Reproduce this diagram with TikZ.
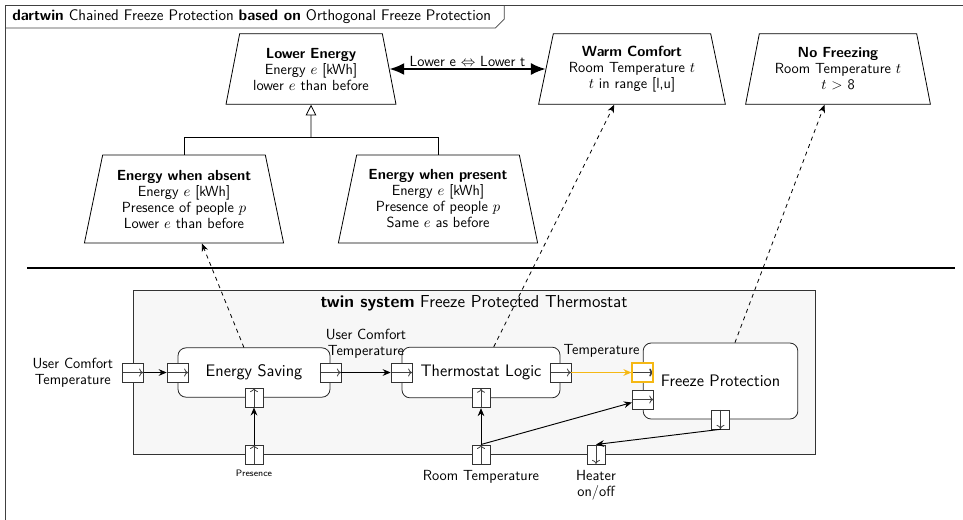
\documentclass[tikz,border=0pt]{standalone}
\usepackage{amsmath,amssymb}
\usepackage{xcolor}
\usetikzlibrary{shapes.geometric, arrows.meta, positioning, calc}
\renewcommand{\familydefault}{\sfdefault}
\definecolor{portorange}{RGB}{245,184,20}

\begin{document}
\begin{tikzpicture}[
    x=0.75pt, y=-0.75pt,
    font=\sffamily\fontsize{11}{12}\selectfont,
    % styles
    frame_line/.style={
        draw=black!75, line width=0.6pt
    },
    goal_block/.style={
        draw, trapezium, trapezium angle=74, trapezium stretches body,
        align=center, inner xsep=2pt, inner ysep=2pt, fill=white, line width=0.6pt
    },
    sys_block/.style={
        draw=black!85, fill=white, rounded corners=6pt, font=\sffamily\fontsize{12.5}{14}\selectfont, line width=0.6pt
    },
    port/.style={
        draw=black!80, fill=white, inner sep=0pt, line width=0.6pt,
        minimum width=15.75pt, minimum height=14.25pt
    },
    vport/.style={
        port, minimum width=13.5pt
    },
    port_sym/.style 2 args={
        path picture={\draw[black!75, -{To[length=3pt,width=6pt]}] (path picture bounding box.#1) -- (path picture bounding box.#2);}
    },
    flow/.style={
        -{Stealth[length=6pt,width=5pt]}, line width=0.7pt
    },
    trace/.style={
        -{Stealth[length=6pt,width=5pt]}, dashed, line width=0.6pt
    },
    tradeoff/.style={
        {Latex[length=11pt,width=9pt]}-{Latex[length=11pt,width=9pt]}, line width=1.3pt
    },
    generalization/.style={
        -{Triangle[open,length=8pt,width=8pt]}, line width=0.6pt
    }
]
    \useasboundingbox (0,0) rectangle (963,519);

    % --- 1. OUTER FRAME ---
    \draw[frame_line] (5,5) -- (980,5);
    \draw[frame_line] (5,5) -- (5,530);
    \node[anchor=west, inner xsep=3pt, inner ysep=0pt, font=\sffamily\fontsize{11.5}{12}\selectfont] (frame_title) at (8,16.5) {\textbf{dartwin} Chained Freeze Protection \textbf{based on} Orthogonal Freeze Protection};
    \draw[frame_line] (5,28) -- (frame_title.east |- 0,28) -- ++(9,-9) -- ++(0,-14);

    % --- 2. GOALS (Top) ---
    \node[goal_block, text width=103pt, minimum height=53pt] (low_energy) at (311,69) {
        \textbf{Lower Energy}\\
        Energy $e$ [kWh]\\
        lower $e$ than before
    };
    \node[goal_block, text width=114pt, minimum height=53pt] (warm_comfort) at (632,69) {
        \textbf{Warm Comfort}\\
        Room Temperature $t$\\
        $t$ in range [l,u]
    };
    \node[goal_block, text width=114pt, minimum height=53pt] (no_freezing) at (838,69) {
        \textbf{No Freezing}\\
        Room Temperature $t$\\
        $t$ > 8
    };
    \node[goal_block, text width=118pt, minimum height=66pt] (energy_absent) at (184,199) {
        \textbf{Energy when absent}\\
        Energy $e$ [kWh]\\
        Presence of people $p$\\
        Lower $e$ than before
    };
    \node[goal_block, text width=118pt, minimum height=66pt] (energy_present) at (438,199) {
        \textbf{Energy when present}\\
        Energy $e$ [kWh]\\
        Presence of people $p$\\
        Same $e$ as before
    };

    % trade-off between goals
    \draw[tradeoff] (low_energy) -- node[above, inner sep=1pt] {Lower e $\Leftrightarrow$ Lower t} (warm_comfort);

    % refinement tree
    \coordinate (gen_join) at (311,137);
    \draw[line width=0.6pt] (energy_absent.north) |- (gen_join);
    \draw[line width=0.6pt] (energy_present.north) |- (gen_join);
    \draw[generalization] (gen_join) -- (low_energy.south);

    % separator
    \draw[line width=2.2pt] (27,268) -- (955,268);

    % --- 3. TWIN SYSTEM (Bottom) ---
    \node[draw=black!80, fill=black!3, line width=0.6pt, minimum width=511.5pt, minimum height=123pt] (twin_sys) at (474,372) {};
    \node[font=\sffamily\fontsize{13}{14}\selectfont, anchor=north, yshift=-1pt] (twin_title) at (twin_sys.north) {\textbf{twin system} Freeze Protected Thermostat};

    \node[sys_block, minimum width=114pt, minimum height=37pt] (energy_saving) at (254,372.5) {Energy Saving};
    \node[sys_block, minimum width=118.5pt, minimum height=38pt] (thermo_logic) at (481,372.5) {Thermostat Logic};
    \node[sys_block, minimum width=116pt, minimum height=57pt] (freeze_prot) at (720.5,381) {Freeze Protection};

    % block ports
    \node[port, port_sym={west}{east}] (es_in) at (energy_saving.west) {};
    \node[port, port_sym={west}{east}] (es_out) at (energy_saving.east) {};
    \node[vport, port_sym={south}{north}] (es_presence) at (energy_saving.south) {};
    \node[port, port_sym={west}{east}] (tl_in) at (thermo_logic.west) {};
    \node[port, port_sym={west}{east}] (tl_out) at (thermo_logic.east) {};
    \node[vport, port_sym={south}{north}] (tl_room) at (thermo_logic.south) {};
    \node[port, port_sym={west}{east}, draw=portorange, line width=1.2pt] (fp_temp) at (freeze_prot.west |- thermo_logic) {};
    \node[port, port_sym={west}{east}] (fp_room) at (freeze_prot.west |- 0,399.5) {};
    \node[vport, port_sym={north}{south}] (fp_heater) at (freeze_prot.south) {};

    % system boundary ports
    \node[port, port_sym={west}{east}] (uct_in) at (twin_sys.west |- energy_saving) {};
    \node[vport, port_sym={south}{north}] (presence_in) at (twin_sys.south -| energy_saving) {};
    \node[vport, port_sym={south}{north}] (room_in) at (twin_sys.south -| thermo_logic) {};
    \node[vport, port_sym={north}{south}] (heater_out) at (twin_sys.south -| 596,0) {};

    \node[left=3pt of uct_in, align=center] (uct_label) {User Comfort\\Temperature};
    \node[below=1pt of presence_in, font=\sffamily\fontsize{7}{8}\selectfont] (presence_label) {Presence};
    \node[below=1pt of room_in] (room_label) {Room Temperature};
    \node[below=1pt of heater_out, align=center] (heater_label) {Heater\\on/off};

    % flows
    \draw[flow] (uct_in) -- (es_in);
    \draw[flow] (es_out) -- (tl_in);
    \path (es_out.north) -- node[above, align=center] {User Comfort\\Temperature} (tl_in.north);
    \draw[flow, portorange, line width=1.1pt] (tl_out) -- (fp_temp);
    \path (tl_out.north) -- node[above] {Temperature} (fp_temp.north);
    \draw[flow] (presence_in) -- (es_presence);
    \draw[flow] (room_in.north) -- (tl_room);
    \draw[flow] (room_in.north) -- (fp_room);
    \draw[flow] (fp_heater.south) -- (heater_out.north);

    % satisfaction traces
    \draw[trace] (energy_saving) -- (energy_absent);
    \draw[trace] (thermo_logic) -- (warm_comfort);
    \draw[trace] (freeze_prot) -- (no_freezing);

\end{tikzpicture}
\end{document}
